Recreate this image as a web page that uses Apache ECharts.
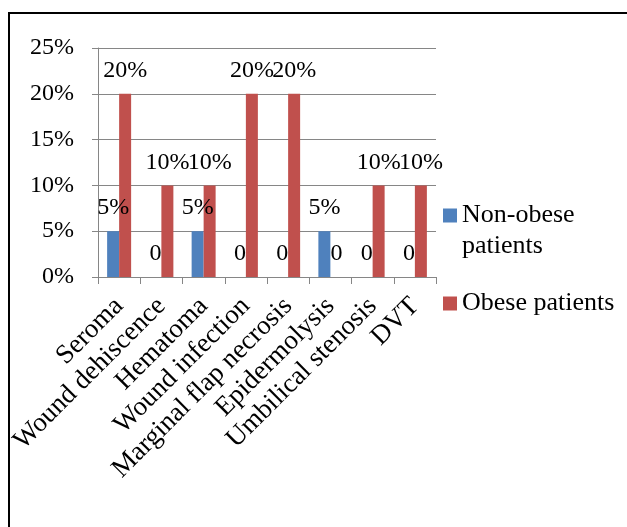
<!DOCTYPE html>
<html>
<head>
<meta charset="utf-8">
<script src="https://cdn.jsdelivr.net/npm/echarts@6/dist/echarts.min.js"></script>
<style>
  html, body { margin: 0; padding: 0; background: #fff; }
  #chart { width: 627px; height: 527px; }
</style>
</head>
<body>
<div id="chart"></div>
<script>
// Complication categories
const categories = [
  'Seroma', 'Wound dehiscence', 'Hematoma', 'Wound infection',
  'Marginal flap necrosis', 'Epidermolysis', 'Umbilical stenosis', 'DVT'
];
// Rates in percent
const nonObese = [5, 0, 5, 0, 0, 5, 0, 0];
const obese = [20, 10, 10, 20, 20, 0, 10, 10];
const seriesNames = ['Non-obese patients', 'Obese patients'];
const yTicks = [0, 5, 10, 15, 20, 25];

const FONT = '"Liberation Serif", "Times New Roman", serif';
const GRID_GRAY = '#868686';

const valueLabel = {
  show: true,
  position: 'top',
  distance: 11,
  fontFamily: FONT,
  fontSize: 24,
  lineHeight: 24,
  color: '#000',
  formatter: p => (p.value === 0 ? '0' : p.value + '%')
};

const legendText = { fontFamily: FONT, fontSize: 26, lineHeight: 31, color: '#000' };

const chart = echarts.init(document.getElementById('chart'));
chart.setOption({
  animation: false,
  backgroundColor: '#fff',
  grid: { left: 98, right: 191, top: 48, bottom: 250, containLabel: false },
  legend: [
    {
      data: [seriesNames[0]],
      orient: 'vertical',
      left: 438, top: 164,
      itemWidth: 14, itemHeight: 14,
      itemGap: 6,
      icon: 'rect',
      // blank first line keeps the swatch level with "Non-obese"
      formatter: n => '\n' + n.replace(' ', '\n'),
      textStyle: legendText
    },
    {
      data: [seriesNames[1]],
      orient: 'vertical',
      left: 438, top: 283,
      itemWidth: 14, itemHeight: 14,
      icon: 'rect',
      textStyle: legendText
    }
  ],
  graphic: [
    {
      type: 'rect',
      shape: { x: 9, y: 13, width: 700, height: 600 },
      style: { fill: 'none', stroke: '#000', lineWidth: 2 },
      silent: true
    }
  ],
  xAxis: {
    type: 'category',
    data: categories,
    axisLine: { lineStyle: { color: GRID_GRAY, width: 1 } },
    axisTick: { show: true, length: 7, alignWithLabel: false, lineStyle: { color: GRID_GRAY } },
    axisLabel: {
      rotate: 45,
      interval: 0,
      margin: 25,
      fontFamily: FONT,
      fontSize: 27,
      color: '#000'
    }
  },
  yAxis: {
    type: 'value',
    min: yTicks[0],
    max: yTicks[yTicks.length - 1],
    interval: 5,
    axisLine: { show: true, lineStyle: { color: GRID_GRAY, width: 1 } },
    axisTick: { show: true, length: 6, lineStyle: { color: GRID_GRAY } },
    splitLine: { lineStyle: { color: GRID_GRAY, width: 1 } },
    axisLabel: {
      margin: 24,
      fontFamily: FONT,
      fontSize: 24,
      color: '#000',
      formatter: '{value}%'
    }
  },
  series: [
    {
      name: seriesNames[0],
      type: 'bar',
      data: nonObese,
      barWidth: 12,
      barGap: '0%',
      itemStyle: { color: '#4F81BD' },
      label: valueLabel
    },
    {
      name: seriesNames[1],
      type: 'bar',
      data: obese,
      barWidth: 12,
      barGap: '0%',
      itemStyle: { color: '#C0504D' },
      label: valueLabel
    }
  ]
});
</script>
</body>
</html>
